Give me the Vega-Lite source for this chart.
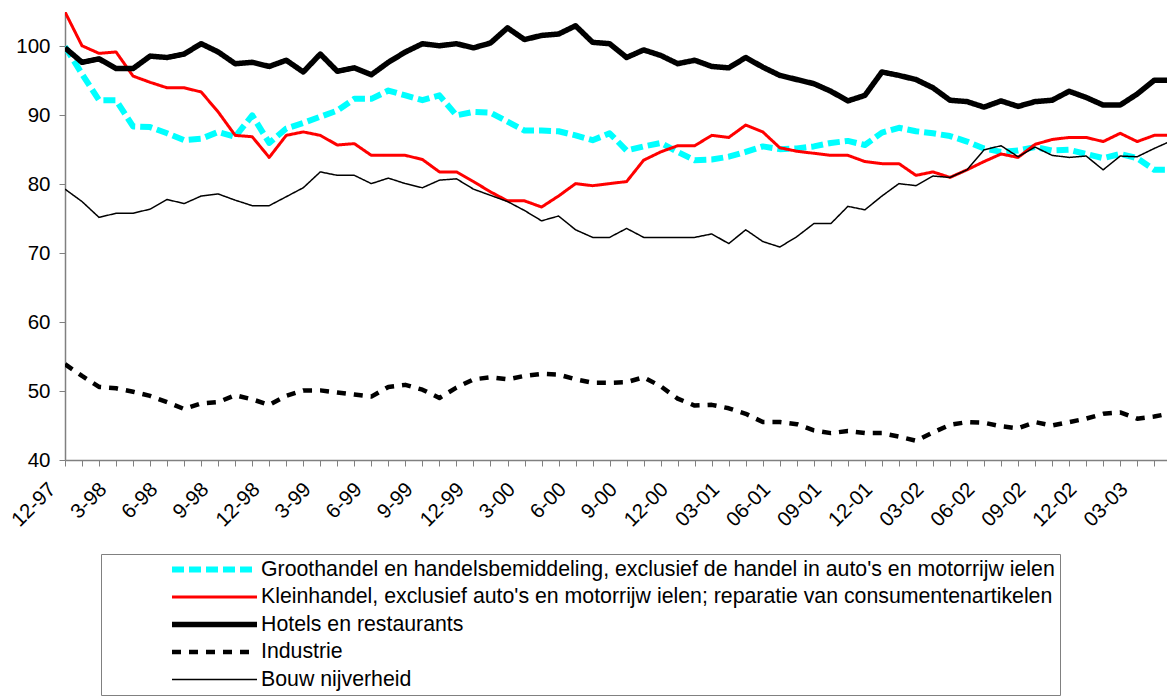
{
  "$schema": "https://vega.github.io/schema/vega-lite/v6.json",
  "width": 1102,
  "height": 448,
  "autosize": {"type": "none"},
  "padding": {"left": 65, "top": 12, "right": 0, "bottom": 239},
  "background": "white",
  "config": {"view": {"stroke": null}, "font": "Liberation Sans"},
  "datasets": {
    "names": [
      {"k": "g", "s": "Groothandel en handelsbemiddeling, exclusief de handel in auto's en motorrijw ielen"},
      {"k": "k", "s": "Kleinhandel, exclusief auto's en motorrijw ielen; reparatie van consumentenartikelen"},
      {"k": "h", "s": "Hotels en restaurants"},
      {"k": "i", "s": "Industrie"},
      {"k": "b", "s": "Bouw nijverheid"}
    ]
  },
  "data": {
    "values": [
      {"m": 0, "g": 100.0, "k": 105.0, "h": 99.8, "i": 53.9, "b": 79.3},
      {"m": 1, "g": 96.0, "k": 100.1, "h": 97.7, "i": 52.2, "b": 77.5},
      {"m": 2, "g": 92.2, "k": 99.0, "h": 98.2, "i": 50.6, "b": 75.2},
      {"m": 3, "g": 92.2, "k": 99.2, "h": 96.8, "i": 50.4, "b": 75.8},
      {"m": 4, "g": 88.4, "k": 95.7, "h": 96.8, "i": 49.9, "b": 75.8},
      {"m": 5, "g": 88.3, "k": 94.8, "h": 98.6, "i": 49.3, "b": 76.4},
      {"m": 6, "g": 87.4, "k": 94.0, "h": 98.4, "i": 48.4, "b": 77.8},
      {"m": 7, "g": 86.4, "k": 94.0, "h": 98.9, "i": 47.4, "b": 77.2},
      {"m": 8, "g": 86.6, "k": 93.4, "h": 100.4, "i": 48.2, "b": 78.3},
      {"m": 9, "g": 87.6, "k": 90.5, "h": 99.2, "i": 48.4, "b": 78.6},
      {"m": 10, "g": 86.9, "k": 87.1, "h": 97.5, "i": 49.4, "b": 77.7},
      {"m": 11, "g": 90.0, "k": 86.9, "h": 97.7, "i": 48.8, "b": 76.9},
      {"m": 12, "g": 86.0, "k": 83.9, "h": 97.1, "i": 48.0, "b": 76.9},
      {"m": 13, "g": 88.1, "k": 87.1, "h": 98.0, "i": 49.3, "b": 78.2},
      {"m": 14, "g": 88.9, "k": 87.6, "h": 96.3, "i": 50.1, "b": 79.5},
      {"m": 15, "g": 89.8, "k": 87.1, "h": 98.9, "i": 50.1, "b": 81.8},
      {"m": 16, "g": 90.7, "k": 85.7, "h": 96.4, "i": 49.8, "b": 81.3},
      {"m": 17, "g": 92.4, "k": 85.9, "h": 96.9, "i": 49.5, "b": 81.3},
      {"m": 18, "g": 92.4, "k": 84.2, "h": 95.9, "i": 49.2, "b": 80.1},
      {"m": 19, "g": 93.6, "k": 84.2, "h": 97.7, "i": 50.6, "b": 80.9},
      {"m": 20, "g": 92.9, "k": 84.2, "h": 99.2, "i": 50.9, "b": 80.1},
      {"m": 21, "g": 92.2, "k": 83.6, "h": 100.4, "i": 50.2, "b": 79.5},
      {"m": 22, "g": 92.9, "k": 81.8, "h": 100.1, "i": 49.0, "b": 80.6},
      {"m": 23, "g": 90.0, "k": 81.8, "h": 100.4, "i": 50.5, "b": 80.8},
      {"m": 24, "g": 90.5, "k": 80.4, "h": 99.8, "i": 51.7, "b": 79.3},
      {"m": 25, "g": 90.4, "k": 78.9, "h": 100.5, "i": 52.0, "b": 78.4},
      {"m": 26, "g": 89.1, "k": 77.6, "h": 102.7, "i": 51.7, "b": 77.5},
      {"m": 27, "g": 87.8, "k": 77.6, "h": 101.0, "i": 52.2, "b": 76.2},
      {"m": 28, "g": 87.8, "k": 76.7, "h": 101.6, "i": 52.5, "b": 74.7},
      {"m": 29, "g": 87.7, "k": 78.3, "h": 101.8, "i": 52.4, "b": 75.4},
      {"m": 30, "g": 87.1, "k": 80.1, "h": 103.0, "i": 51.7, "b": 73.4},
      {"m": 31, "g": 86.4, "k": 79.8, "h": 100.6, "i": 51.2, "b": 72.3},
      {"m": 32, "g": 87.4, "k": 80.1, "h": 100.4, "i": 51.2, "b": 72.3},
      {"m": 33, "g": 84.9, "k": 80.4, "h": 98.4, "i": 51.3, "b": 73.6},
      {"m": 34, "g": 85.5, "k": 83.5, "h": 99.5, "i": 52.0, "b": 72.3},
      {"m": 35, "g": 86.0, "k": 84.7, "h": 98.7, "i": 50.7, "b": 72.3},
      {"m": 36, "g": 84.7, "k": 85.6, "h": 97.5, "i": 48.9, "b": 72.3},
      {"m": 37, "g": 83.5, "k": 85.6, "h": 98.0, "i": 47.9, "b": 72.3},
      {"m": 38, "g": 83.6, "k": 87.1, "h": 97.1, "i": 48.0, "b": 72.8},
      {"m": 39, "g": 84.0, "k": 86.8, "h": 96.9, "i": 47.5, "b": 71.4},
      {"m": 40, "g": 84.7, "k": 88.6, "h": 98.4, "i": 46.7, "b": 73.4},
      {"m": 41, "g": 85.5, "k": 87.6, "h": 97.0, "i": 45.5, "b": 71.7},
      {"m": 42, "g": 85.1, "k": 85.3, "h": 95.8, "i": 45.5, "b": 70.9},
      {"m": 43, "g": 85.2, "k": 84.8, "h": 95.2, "i": 45.2, "b": 72.4},
      {"m": 44, "g": 85.5, "k": 84.5, "h": 94.6, "i": 44.3, "b": 74.3},
      {"m": 45, "g": 86.0, "k": 84.2, "h": 93.5, "i": 43.9, "b": 74.3},
      {"m": 46, "g": 86.3, "k": 84.2, "h": 92.1, "i": 44.2, "b": 76.8},
      {"m": 47, "g": 85.7, "k": 83.3, "h": 92.9, "i": 43.9, "b": 76.3},
      {"m": 48, "g": 87.5, "k": 83.0, "h": 96.3, "i": 43.9, "b": 78.3},
      {"m": 49, "g": 88.2, "k": 83.0, "h": 95.8, "i": 43.4, "b": 80.1},
      {"m": 50, "g": 87.7, "k": 81.3, "h": 95.2, "i": 42.8, "b": 79.8},
      {"m": 51, "g": 87.4, "k": 81.8, "h": 94.0, "i": 44.0, "b": 81.2},
      {"m": 52, "g": 87.0, "k": 81.0, "h": 92.2, "i": 45.1, "b": 81.0},
      {"m": 53, "g": 86.2, "k": 82.1, "h": 92.0, "i": 45.5, "b": 82.1},
      {"m": 54, "g": 85.2, "k": 83.3, "h": 91.2, "i": 45.4, "b": 85.0},
      {"m": 55, "g": 84.7, "k": 84.4, "h": 92.1, "i": 44.9, "b": 85.6},
      {"m": 56, "g": 84.9, "k": 83.9, "h": 91.3, "i": 44.6, "b": 84.0},
      {"m": 57, "g": 85.4, "k": 85.8, "h": 92.0, "i": 45.5, "b": 85.4},
      {"m": 58, "g": 84.9, "k": 86.5, "h": 92.2, "i": 45.0, "b": 84.2},
      {"m": 59, "g": 85.0, "k": 86.8, "h": 93.5, "i": 45.5, "b": 83.9},
      {"m": 60, "g": 84.4, "k": 86.8, "h": 92.6, "i": 46.0, "b": 84.1},
      {"m": 61, "g": 83.8, "k": 86.2, "h": 91.5, "i": 46.7, "b": 82.1},
      {"m": 62, "g": 84.4, "k": 87.4, "h": 91.5, "i": 46.9, "b": 84.1},
      {"m": 63, "g": 83.8, "k": 86.2, "h": 93.1, "i": 46.0, "b": 84.0},
      {"m": 64, "g": 82.1, "k": 87.1, "h": 95.1, "i": 46.3, "b": 85.2},
      {"m": 65, "g": 82.1, "k": 87.1, "h": 95.1, "i": 46.8, "b": 86.3}
    ]
  },
  "transform": [
    {"fold": ["g", "k", "h", "i", "b"], "as": ["key", "v"]},
    {"lookup": "key", "from": {"data": {"name": "names"}, "key": "k", "fields": ["s"]}}
  ],
  "mark": {"type": "line", "clip": true, "strokeCap": "butt", "strokeJoin": "round"},
  "encoding": {
    "x": {
      "field": "m",
      "type": "quantitative",
      "scale": {"domain": [0, 64.75], "nice": false, "zero": false},
      "axis": {
        "title": null,
        "grid": false,
        "values": [0,1,2,3,4,5,6,7,8,9,10,11,12,13,14,15,16,17,18,19,20,21,22,23,24,25,26,27,28,29,30,31,32,33,34,35,36,37,38,39,40,41,42,43,44,45,46,47,48,49,50,51,52,53,54,55,56,57,58,59,60,61,62,63,64],
        "labelExpr": "datum.value % 3 == 0 ? ['12-97','3-98','6-98','9-98','12-98','3-99','6-99','9-99','12-99','3-00','6-00','9-00','12-00','03-01','06-01','09-01','12-01','03-02','06-02','09-02','12-02','03-03'][datum.value / 3] : ''",
        "labelAngle": -45,
        "labelAlign": "right",
        "labelBaseline": "middle",
        "labelFontSize": 20.5,
        "labelFont": "Liberation Sans",
        "labelColor": "#000000",
        "labelPadding": 20,
        "labelOffset": -13,
        "labelOverlap": false,
        "labelBound": false,
        "labelFlush": false,
        "tickSize": 6,
        "tickColor": "#808080",
        "domainColor": "#808080",
        "domainWidth": 1.5
      }
    },
    "y": {
      "field": "v",
      "type": "quantitative",
      "scale": {"domain": [40, 105], "nice": false, "zero": false},
      "axis": {
        "title": null,
        "grid": false,
        "values": [40, 50, 60, 70, 80, 90, 100],
        "labelFontSize": 20.5,
        "labelFont": "Liberation Sans",
        "labelColor": "#000000",
        "labelPadding": 9,
        "tickSize": 6,
        "tickColor": "#808080",
        "domainColor": "#808080",
        "domainWidth": 1.5
      }
    },
    "color": {
      "field": "s",
      "type": "nominal",
      "scale": {
        "domain": ["Groothandel en handelsbemiddeling, exclusief de handel in auto's en motorrijw ielen", "Kleinhandel, exclusief auto's en motorrijw ielen; reparatie van consumentenartikelen", "Hotels en restaurants", "Industrie", "Bouw nijverheid"],
        "range": ["#00FFFF", "#FF0000", "#000000", "#000000", "#000000"]
      },
      "legend": {
        "title": null,
        "orient": "none",
        "legendX": 36,
        "legendY": 542,
        "padding": 5,
        "strokeColor": "#808080",
        "fillColor": "#FFFFFF",
        "symbolType": "stroke",
        "symbolSize": 7225,
        "symbolOffset": 63,
        "clipHeight": 21,
        "rowPadding": 5.5,
        "labelFontSize": 21.3,
        "labelFont": "Liberation Sans",
        "labelColor": "#000000",
        "labelLimit": 2000,
        "labelOffset": 1
      }
    },
    "strokeDash": {
      "field": "s",
      "type": "nominal",
      "scale": {
        "domain": ["Groothandel en handelsbemiddeling, exclusief de handel in auto's en motorrijw ielen", "Kleinhandel, exclusief auto's en motorrijw ielen; reparatie van consumentenartikelen", "Hotels en restaurants", "Industrie", "Bouw nijverheid"],
        "range": [[12, 5], [1, 0], [1, 0], [9, 8], [1, 0]]
      },
      "legend": {
        "title": null,
        "orient": "none",
        "legendX": 36,
        "legendY": 542,
        "padding": 5,
        "strokeColor": "#808080",
        "fillColor": "#FFFFFF",
        "symbolType": "stroke",
        "symbolSize": 7225,
        "symbolOffset": 63,
        "clipHeight": 21,
        "rowPadding": 5.5,
        "labelFontSize": 21.3,
        "labelFont": "Liberation Sans",
        "labelColor": "#000000",
        "labelLimit": 2000,
        "labelOffset": 1
      }
    },
    "strokeWidth": {
      "field": "s",
      "type": "nominal",
      "scale": {
        "type": "ordinal",
        "domain": ["Groothandel en handelsbemiddeling, exclusief de handel in auto's en motorrijw ielen", "Kleinhandel, exclusief auto's en motorrijw ielen; reparatie van consumentenartikelen", "Hotels en restaurants", "Industrie", "Bouw nijverheid"],
        "range": [6, 3, 5.5, 4.5, 1.5]
      },
      "legend": {
        "title": null,
        "orient": "none",
        "legendX": 36,
        "legendY": 542,
        "padding": 5,
        "strokeColor": "#808080",
        "fillColor": "#FFFFFF",
        "symbolType": "stroke",
        "symbolSize": 7225,
        "symbolOffset": 63,
        "clipHeight": 21,
        "rowPadding": 5.5,
        "labelFontSize": 21.3,
        "labelFont": "Liberation Sans",
        "labelColor": "#000000",
        "labelLimit": 2000,
        "labelOffset": 1
      }
    }
  }
}
